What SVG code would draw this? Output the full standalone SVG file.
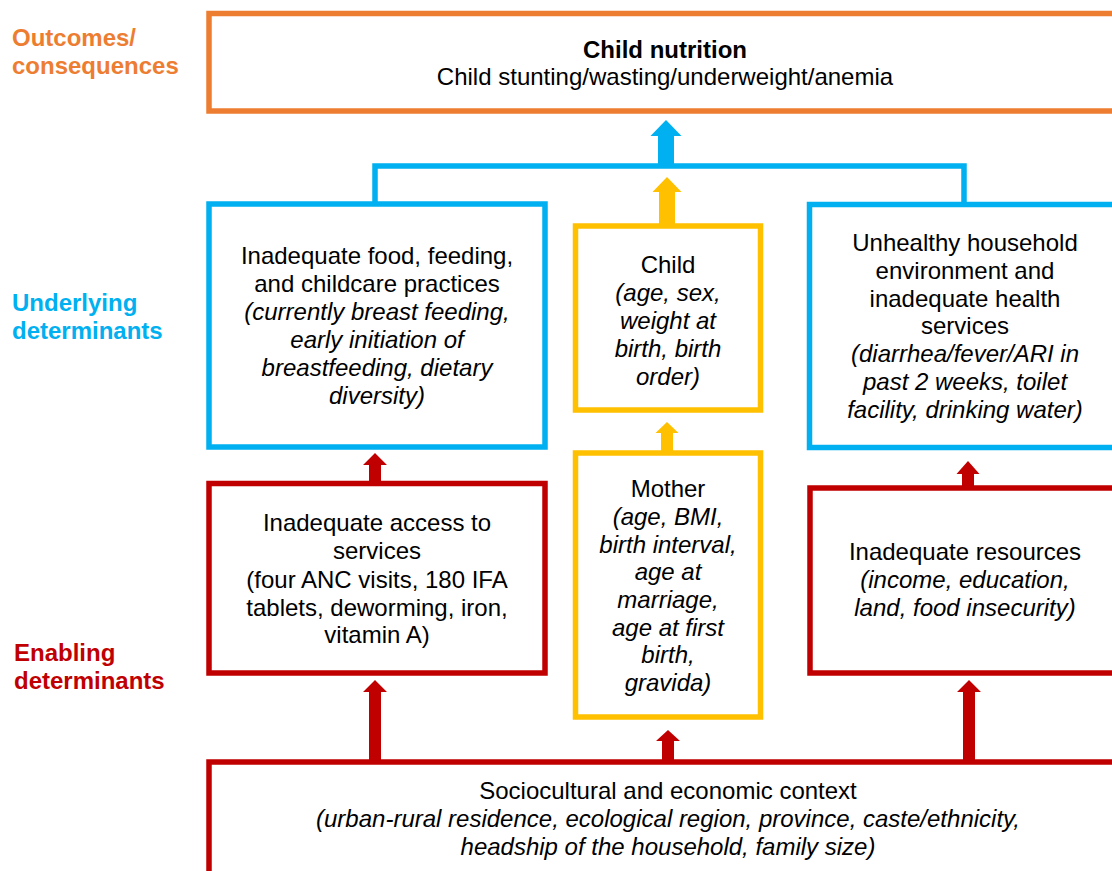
<svg xmlns="http://www.w3.org/2000/svg" width="1112" height="871" viewBox="0 0 1112 871">
<style>
  text { font-family: "Liberation Sans", Arial, sans-serif; font-size: 24px; fill: #000; }
  .c { text-anchor: middle; }
  .i { font-style: italic; }
  .b { font-weight: bold; }
  .box { fill: #fff; stroke-width: 5.5; }
  .or { stroke: #ED7D31; }
  .bl { stroke: #00B0F0; }
  .ye { stroke: #FFC000; }
  .rd { stroke: #C00000; }
  .lab { font-weight: bold; }
</style>
<rect width="1112" height="871" fill="#fff"/>

<g id="labels">
  <text class="lab" x="12" y="46" style="fill:#ED7D31">Outcomes/</text>
  <text class="lab" x="12" y="74" style="fill:#ED7D31">consequences</text>
  <text class="lab" x="12" y="311" style="fill:#00B0F0">Underlying</text>
  <text class="lab" x="12" y="339" style="fill:#00B0F0">determinants</text>
  <text class="lab" x="14" y="661" style="fill:#C00000">Enabling</text>
  <text class="lab" x="14" y="689" style="fill:#C00000">determinants</text>
</g>

<g id="connectors">
  <polyline points="375,204 375,166 964,166 964,204" fill="none" stroke="#00B0F0" stroke-width="5.5"/>
  <polygon fill="#00B0F0" points="658,166 658,136 650.5,136 666,120 681.5,136 674,136 674,166"/>
  <polygon fill="#FFC000" points="659,226 659,192 652.5,192 667,177 681.5,192 675,192 675,226"/>
  <polygon fill="#FFC000" points="661,453 661,433 655.5,433 667,422 678.5,433 673,433 673,453"/>
  <polygon fill="#C00000" points="369,484 369,465 363,465 375,453 387,465 381,465 381,484"/>
  <polygon fill="#C00000" points="962,488 962,474 956.5,474 968,461 979.5,474 974,474 974,488"/>
  <polygon fill="#C00000" points="369,762 369,692 363,692 375,680 387,692 381,692 381,762"/>
  <polygon fill="#C00000" points="662,762 662,741 656,741 668,730 680,741 674,741 674,762"/>
  <polygon fill="#C00000" points="963,762 963,692 957,692 969,680 981,692 975,692 975,762"/>
</g>

<g id="node-outcome">
  <rect class="box or" x="209" y="13.5" width="912" height="97.5"/>
  <text class="c b" x="665" y="58">Child nutrition</text>
  <text class="c" x="665" y="85">Child stunting/wasting/underweight/anemia</text>
</g>

<g id="node-feeding">
  <rect class="box bl" x="209" y="204" width="336" height="243"/>
  <text class="c" x="377" y="264">Inadequate food, feeding,</text>
  <text class="c" x="377" y="292">and childcare practices</text>
  <text class="c i" x="377" y="320">(currently breast feeding,</text>
  <text class="c i" x="377" y="348">early initiation of</text>
  <text class="c i" x="377" y="376">breastfeeding, dietary</text>
  <text class="c i" x="377" y="404">diversity)</text>
</g>

<g id="node-child">
  <rect class="box ye" x="575.5" y="226" width="185" height="184"/>
  <text class="c" x="668" y="273">Child</text>
  <text class="c i" x="668" y="301">(age, sex,</text>
  <text class="c i" x="668" y="329">weight at</text>
  <text class="c i" x="668" y="357">birth, birth</text>
  <text class="c i" x="668" y="385">order)</text>
</g>

<g id="node-environment">
  <rect class="box bl" x="809.5" y="204.5" width="312" height="243"/>
  <text class="c" x="965" y="251">Unhealthy household</text>
  <text class="c" x="965" y="279">environment and</text>
  <text class="c" x="965" y="307">inadequate health</text>
  <text class="c" x="965" y="334">services</text>
  <text class="c i" x="965" y="362">(diarrhea/fever/ARI in</text>
  <text class="c i" x="965" y="390">past 2 weeks, toilet</text>
  <text class="c i" x="965" y="418">facility, drinking water)</text>
</g>

<g id="node-access">
  <rect class="box rd" x="209" y="483.5" width="336" height="189.5"/>
  <text class="c" x="377" y="531">Inadequate access to</text>
  <text class="c" x="377" y="559">services</text>
  <text class="c" x="377" y="588">(four ANC visits, 180 IFA</text>
  <text class="c" x="377" y="616">tablets, deworming, iron,</text>
  <text class="c" x="377" y="643">vitamin A)</text>
</g>

<g id="node-mother">
  <rect class="box ye" x="575.5" y="453" width="185" height="264"/>
  <text class="c" x="668" y="497">Mother</text>
  <text class="c i" x="668" y="525">(age, BMI,</text>
  <text class="c i" x="668" y="553">birth interval,</text>
  <text class="c i" x="668" y="580">age at</text>
  <text class="c i" x="668" y="608">marriage,</text>
  <text class="c i" x="668" y="636">age at first</text>
  <text class="c i" x="668" y="663">birth,</text>
  <text class="c i" x="668" y="691">gravida)</text>
</g>

<g id="node-resources">
  <rect class="box rd" x="810" y="488" width="311" height="185"/>
  <text class="c" x="965" y="560">Inadequate resources</text>
  <text class="c i" x="965" y="588">(income, education,</text>
  <text class="c i" x="965" y="616">land, food insecurity)</text>
</g>

<g id="node-context">
  <rect class="box rd" x="209" y="762" width="917" height="120"/>
  <text class="c" x="668" y="799">Sociocultural and economic context</text>
  <text class="c i" x="668" y="827">(urban-rural residence, ecological region, province, caste/ethnicity,</text>
  <text class="c i" x="668" y="855">headship of the household, family size)</text>
</g>
</svg>
